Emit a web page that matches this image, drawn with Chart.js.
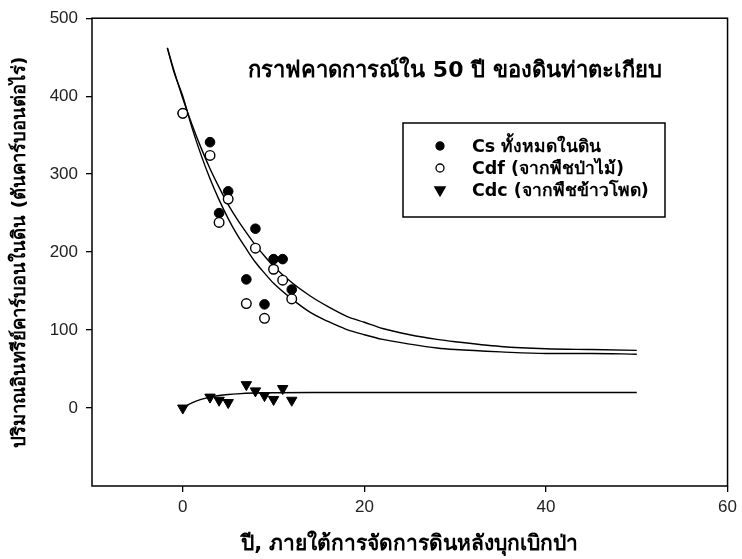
<!DOCTYPE html>
<html>
<head>
<meta charset="utf-8">
<script src="https://cdn.jsdelivr.net/npm/chart.js@4/dist/chart.umd.min.js"></script>
<style>
    html, body { margin: 0; padding: 0; background: #fff; }
    #box { width: 742px; height: 559px; }
</style>
</head>
<body>
<div id="box"><canvas id="chart1"></canvas></div>
<script>
// dados
const anos = [0, 3, 4, 5, 7, 8, 9, 10, 11, 12];
const cs = [378, 341, 250, 278, 165, 230, 133, 191, 191, 152];
const cdf = [378, 324, 238, 268, 134, 205, 115, 178, 164, 140];
const cdc = [0, 14, 10, 7, 30, 22, 16, 11, 25, 10];

// curvas de regressao
const fitX = [-1.7, -1, 0, 1, 2, 3, 4, 5, 6, 7, 8, 9, 10, 12, 14, 16, 18, 20, 22, 25, 28, 30, 35, 40, 45, 50];
const csFit = [462, 434, 397, 364, 334, 307, 283, 261, 242, 225, 209, 195, 182, 161, 144, 130, 118, 110, 102, 94, 88, 85, 79, 76, 75, 74];
const cdfFit = [462, 432, 400, 360, 325, 294, 267, 243, 222, 204, 187, 173, 160, 140, 123, 111, 101, 94, 88, 82, 77, 75, 72, 70, 70, 69];
const cdcX = [0, 1, 2, 3, 4, 5, 6, 8, 10, 15, 20, 30, 40, 50];
const cdcFit = [0, 6.5, 11, 14, 16, 17.3, 18.2, 19.2, 19.6, 19.9, 20, 20, 20, 20];

const xTicks = [0, 20, 40, 60];
const yTicks = [0, 100, 200, 300, 400, 500];

const titulo = 'กราฟคาดการณ์ใน 50 ปี ของดินท่าตะเกียบ';
const legendas = ['Cs ทั้งหมดในดิน', 'Cdf (จากพืชป่าไม้)', 'Cdc (จากพืชข้าวโพด)'];
const tituloX = 'ปี, ภายใต้การจัดการดินหลังบุกเบิกป่า';
const tituloY = 'ปริมาณอินทรีย์คาร์บอนในดิน (ตันคาร์บอนต่อไร่)';

const fonte = 'Tahoma, "DejaVu Sans", "Liberation Sans", sans-serif';

function pares(xs, ys) {
    const lista = [];
    for (let i = 0; i < xs.length; i++) {
        lista.push({ x: xs[i], y: ys[i] });
    }
    return lista;
}

// moldura, titulo interno e legenda
const extras = {
    id: 'extras',
    afterDraw(chart) {
        const ctx = chart.ctx;
        const a = chart.chartArea;
        ctx.save();
        ctx.strokeStyle = '#000';
        ctx.lineWidth = 1.5;
        ctx.strokeRect(a.left, a.top, a.right - a.left, a.bottom - a.top);

        ctx.fillStyle = '#000';
        ctx.font = 'bold 22px ' + fonte;
        ctx.textAlign = 'center';
        ctx.textBaseline = 'middle';
        ctx.fillText(titulo, 455, 71);

        // legenda
        ctx.lineWidth = 1.5;
        ctx.strokeRect(403, 123, 262, 94);
        const linhas = [146, 168, 190];
        ctx.font = 'bold 17.5px ' + fonte;
        ctx.textAlign = 'left';
        chart.data.datasets.forEach(function (d) {
            if (d.legenda === undefined) return;
            const i = d.legenda;
            ctx.fillStyle = d.pointBackgroundColor;
            ctx.strokeStyle = '#000';
            ctx.lineWidth = 1.3;
            Chart.helpers.drawPoint(ctx, {
                pointStyle: d.pointStyle,
                rotation: d.rotation || 0,
                radius: d.pointStyle == 'triangle' ? 6 : 4,
                borderWidth: 1.3
            }, 440, linhas[i]);
            ctx.fillStyle = '#000';
            ctx.fillText(legendas[i], 472, linhas[i] + 1);
        });
        ctx.restore();
    }
};

new Chart(document.getElementById('chart1'), {
    type: 'scatter',
    data: {
        datasets: [
            {
                label: legendas[1],
                legenda: 1,
                data: pares(anos, cdf),
                pointStyle: 'circle',
                pointRadius: 4.8,
                pointBackgroundColor: '#fff',
                pointBorderColor: '#000',
                pointBorderWidth: 1.4,
                order: 1
            },
            {
                label: legendas[0],
                legenda: 0,
                data: pares(anos, cs),
                pointStyle: 'circle',
                pointRadius: 4.8,
                pointBackgroundColor: '#000',
                pointBorderColor: '#000',
                pointBorderWidth: 1,
                order: 2
            },
            {
                label: legendas[2],
                legenda: 2,
                data: pares(anos, cdc),
                pointStyle: 'triangle',
                rotation: 180,
                pointRadius: 6,
                pointBackgroundColor: '#000',
                pointBorderColor: '#000',
                pointBorderWidth: 1,
                order: 0
            },
            {
                label: 'fit Cs',
                data: pares(fitX, csFit),
                showLine: true,
                pointRadius: 0,
                borderColor: '#000',
                borderWidth: 1.4,
                cubicInterpolationMode: 'monotone',
                order: 5
            },
            {
                label: 'fit Cdf',
                data: pares(fitX, cdfFit),
                showLine: true,
                pointRadius: 0,
                borderColor: '#000',
                borderWidth: 1.4,
                cubicInterpolationMode: 'monotone',
                order: 5
            },
            {
                label: 'fit Cdc',
                data: pares(cdcX, cdcFit),
                showLine: true,
                pointRadius: 0,
                borderColor: '#000',
                borderWidth: 1.4,
                cubicInterpolationMode: 'monotone',
                order: 5
            }
        ]
    },
    options: {
        responsive: true,
        maintainAspectRatio: false,
        animation: false,
        layout: {
            padding: { left: 0, top: 18, right: 13, bottom: 0 }
        },
        plugins: {
            legend: { display: false },
            tooltip: { enabled: false }
        },
        scales: {
            x: {
                type: 'linear',
                min: -10,
                max: 60,
                afterBuildTicks: (scale) => { scale.ticks = xTicks.map(v => ({ value: v })); },
                afterFit: (scale) => { scale.height = 73; },
                border: { display: false },
                grid: {
                    drawOnChartArea: false,
                    drawTicks: true,
                    tickLength: 6,
                    color: '#000',
                    lineWidth: 1.3
                },
                ticks: {
                    padding: 5,
                    color: '#222',
                    font: { family: '"Liberation Sans", Arial, sans-serif', size: 17 }
                },
                title: {
                    display: true,
                    text: tituloX,
                    color: '#000',
                    padding: { top: 0, bottom: 2 },
                    font: { family: fonte, size: 21, weight: 'bold' }
                }
            },
            y: {
                type: 'linear',
                min: -100,
                max: 500,
                afterBuildTicks: (scale) => { scale.ticks = yTicks.map(v => ({ value: v })); },
                afterFit: (scale) => { scale.width = 92; },
                border: { display: false },
                grid: {
                    drawOnChartArea: false,
                    drawTicks: true,
                    tickLength: 6,
                    color: '#000',
                    lineWidth: 1.3
                },
                ticks: {
                    padding: 8,
                    color: '#222',
                    font: { family: '"Liberation Sans", Arial, sans-serif', size: 17 }
                },
                title: {
                    display: true,
                    text: tituloY,
                    color: '#000',
                    padding: { top: 9, bottom: 0 },
                    font: { family: fonte, size: 18.5, weight: 'bold' }
                }
            }
        }
    },
    plugins: [extras]
});
</script>
</body>
</html>
